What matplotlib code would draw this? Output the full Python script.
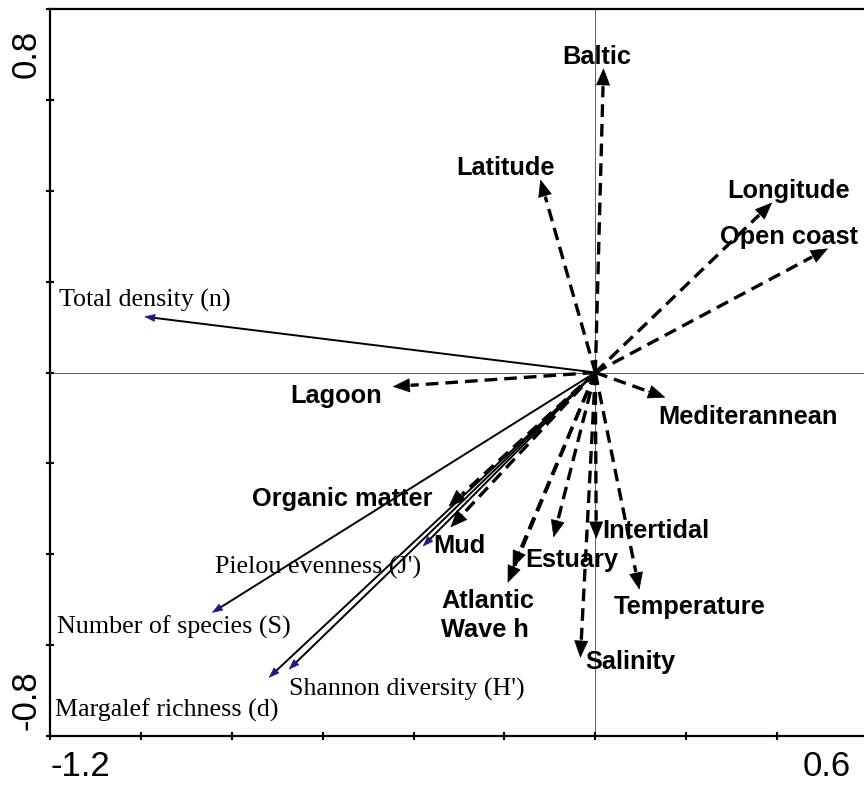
import numpy as np
import matplotlib
matplotlib.use('Agg')
import matplotlib.pyplot as plt

# Environmental vectors (dashed, bold labels)
env_names = ['Baltic', 'Latitude', 'Longitude', 'Open coast', 'Lagoon', 'Mediterannean',
             'Organic matter', 'Mud', 'Atlantic', 'Wave h', 'Estuary', 'Intertidal',
             'Temperature', 'Salinity']
env_x = [0.018, -0.121, 0.389, 0.512, -0.446, 0.154, -0.323, -0.319, -0.193, -0.182,
         -0.092, 0.002, 0.097, -0.033]
env_y = [0.670, 0.425, 0.374, 0.273, -0.031, -0.055, -0.295, -0.341, -0.463, -0.430,
         -0.363, -0.366, -0.478, -0.628]
env_lab_x = [0.004, -0.198, 0.425, 0.426, -0.571, 0.337, -0.558, -0.299, -0.237, -0.242,
             -0.051, 0.132, 0.207, 0.077]
env_lab_y = [0.695, 0.450, 0.400, 0.299, -0.051, -0.099, -0.278, -0.381, -0.502, -0.566,
             -0.412, -0.348, -0.515, -0.637]

# Community descriptors (solid, serif labels)
sp_names = ['Total density (n)', 'Number of species (S)', 'Margalef richness (d)',
            "Shannon diversity (H')", "Pielou evenness (J')"]
sp_x = [-0.993, -0.844, -0.719, -0.675, -0.380]
sp_y = [0.123, -0.529, -0.672, -0.654, -0.383]
sp_lab_x = [-1.180, -1.185, -1.189, -0.675, -0.837]
sp_lab_y = [0.158, -0.561, -0.744, -0.697, -0.428]

fig = plt.figure(figsize=(8.64, 7.85), dpi=100)
ax = fig.add_axes([50 / 864, 49 / 785, 818 / 864, 727 / 785])
ax.set_xlim(-1.2, 0.6)
ax.set_ylim(-0.8, 0.8)

ax.axhline(0, color='#444444', lw=0.6, zorder=1)
ax.axvline(0, color='#444444', lw=0.6, zorder=1)

head_len = 0.04
for name, x, y, lx, ly in zip(env_names, env_x, env_y, env_lab_x, env_lab_y):
    r = np.hypot(x, y)
    ux, uy = x / r, y / r
    bx, by = x - head_len * ux, y - head_len * uy
    ax.plot([0, bx], [0, by], color='black', lw=2.4, ls=(0, (3.8, 2.1)),
            solid_capstyle='butt', dash_capstyle='butt', zorder=3)
    ax.annotate('', xy=(x, y), xytext=(bx, by),
                arrowprops=dict(arrowstyle='-|>,head_length=1.15,head_width=0.47',
                                mutation_scale=10, color='black', lw=0.5,
                                shrinkA=0, shrinkB=0), zorder=4)
    ax.text(lx, ly, name, ha='center', va='center', fontsize=18.3,
            fontweight='bold', family='Liberation Sans', zorder=5)

for name, x, y, lx, ly in zip(sp_names, sp_x, sp_y, sp_lab_x, sp_lab_y):
    r = np.hypot(x, y)
    ux, uy = x / r, y / r
    bx, by = x - 0.02 * ux, y - 0.02 * uy
    ax.plot([0, bx], [0, by], color='black', lw=1.4, zorder=2)
    ax.annotate('', xy=(x, y), xytext=(bx, by),
                arrowprops=dict(arrowstyle='-|>,head_length=0.7,head_width=0.25',
                                mutation_scale=10, color='#1a1a80', lw=0.5,
                                shrinkA=0, shrinkB=0), zorder=2)
    ax.text(lx, ly, name, ha='left', va='center', fontsize=18.7,
            family='Liberation Serif', zorder=5)

ax.set_xticks(np.arange(-1.2, 0.61, 0.2))
ax.set_yticks(np.arange(-0.8, 0.81, 0.2))
ax.tick_params(direction='inout', length=6, width=1.5, labelleft=False, labelbottom=False)
for s in ['left', 'bottom', 'top']:
    ax.spines[s].set_linewidth(1.6)
ax.spines['right'].set_visible(False)

fig.text(50 / 864, 1 - 767 / 785, '-1.2', ha='left', va='center', fontsize=25, family='Liberation Sans')
fig.text(851 / 864, 1 - 767 / 785, '0.6', ha='right', va='center', fontsize=25, family='Liberation Sans')
fig.text(26 / 864, 1 - 54 / 785, '0.8', ha='center', va='center', rotation=90, fontsize=25, family='Liberation Sans')
fig.text(26 / 864, 1 - 700 / 785, '-0.8', ha='center', va='center', rotation=90, fontsize=25, family='Liberation Sans')

fig.savefig('out.png', dpi=100)
